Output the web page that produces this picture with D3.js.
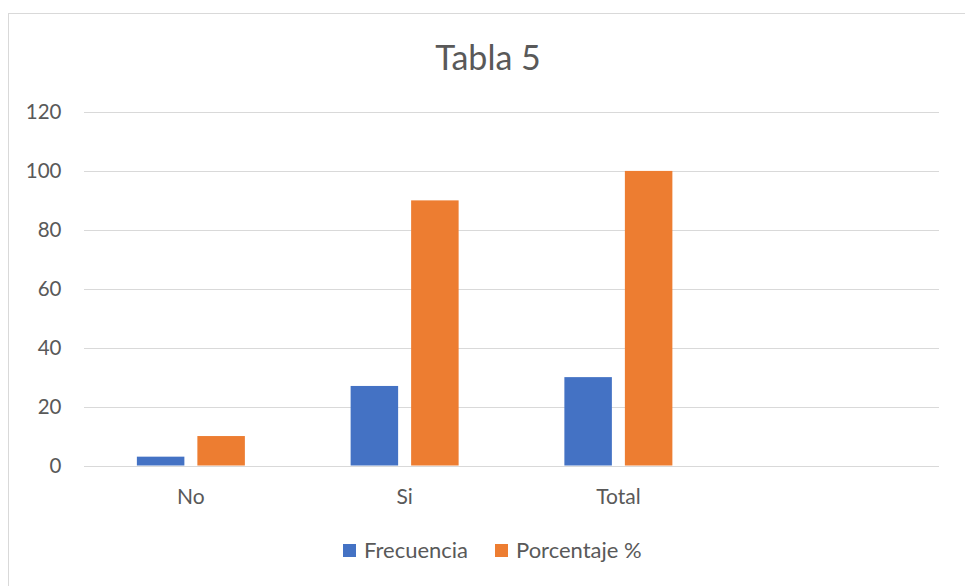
<!DOCTYPE html>
<html><head><meta charset="utf-8">
<script src="https://cdn.jsdelivr.net/npm/d3@7"></script>
<style>body{margin:0;background:#fff;}svg{display:block;font-family:Lato,"Open Sans",sans-serif;}</style>
</head><body>
<svg id="c" width="965" height="586"></svg>
<script>
const categories = ["No", "Si", "Total", ""];
const seriesNames = ["Frecuencia", "Porcentaje %"];
const frecuencia = [3, 27, 30, null];
const porcentaje = [10, 90, 100, null];
const yTicks = [0, 20, 40, 60, 80, 100, 120];
const colors = ["#4472C4", "#ED7D31"];

(function(){
const svg = d3.select("#c");
svg.append("rect").attr("x", 8.5).attr("y", 13.5).attr("width", 970).attr("height", 590)
  .attr("fill", "#fff").attr("stroke", "#d9d9d9").attr("stroke-width", 1);

const pLeft = 84, pRight = 939, pTop = 112, pBottom = 465.5;
const x = d3.scaleBand().domain(categories.map((d,i)=>i)).range([pLeft, pRight]);
const y = d3.scaleLinear().domain([0, 120]).range([pBottom, pTop]);

svg.append("text").attr("x", 488).attr("y", 70).attr("text-anchor", "middle")
  .attr("font-size", 34).attr("fill", "#595959").text("Tabla 5");

const grid = svg.append("g");
grid.selectAll("line").data(yTicks).join("line")
  .attr("x1", pLeft).attr("x2", pRight)
  .attr("y1", d => Math.round(y(d)) + 0.5).attr("y2", d => Math.round(y(d)) + 0.5)
  .attr("stroke", "#d9d9d9").attr("stroke-width", 1);

const yAxis = d3.axisLeft(y).tickValues(yTicks).tickSize(0).tickPadding(0);
const ga = svg.append("g").attr("transform", `translate(61.5,0)`).call(yAxis);
ga.select(".domain").remove();
ga.selectAll("text").attr("font-size", 20.5).attr("fill", "#595959").attr("font-family", "Lato,sans-serif");

const barW = 47.5, gap = 13;
const data = [frecuencia, porcentaje];
data.forEach((vals, s) => {
  svg.append("g").selectAll("rect").data(vals.map((v,i)=>({v,i})).filter(d=>d.v!=null)).join("rect")
    .attr("x", d => x(d.i) + x.bandwidth()/2 + (s === 0 ? -(gap/2 + barW) : gap/2))
    .attr("width", barW)
    .attr("y", d => y(d.v)).attr("height", d => y(0) - y(d.v))
    .attr("fill", colors[s]);
});

svg.append("line").attr("x1", pLeft).attr("x2", pRight).attr("y1", Math.round(y(0))+0.5).attr("y2", Math.round(y(0))+0.5)
  .attr("stroke", "#d9d9d9");

const xAxis = d3.axisBottom(x).tickFormat(i => categories[i]).tickSize(0).tickPadding(0);
const gx = svg.append("g").attr("transform", `translate(0,504)`).call(xAxis);
gx.select(".domain").remove();
gx.selectAll("text").attr("font-size", 21).attr("fill", "#595959").attr("dy", 0).attr("font-family", "Lato,sans-serif");

const legX = [343, 495];
const lg = svg.append("g");
seriesNames.forEach((n, i) => {
  lg.append("rect").attr("x", legX[i]).attr("y", 544).attr("width", 13).attr("height", 13).attr("fill", colors[i]);
  lg.append("text").attr("x", legX[i] + 21).attr("y", 558).attr("font-size", 22).attr("fill", "#595959").text(n);
});
})();
</script>
</body></html>
